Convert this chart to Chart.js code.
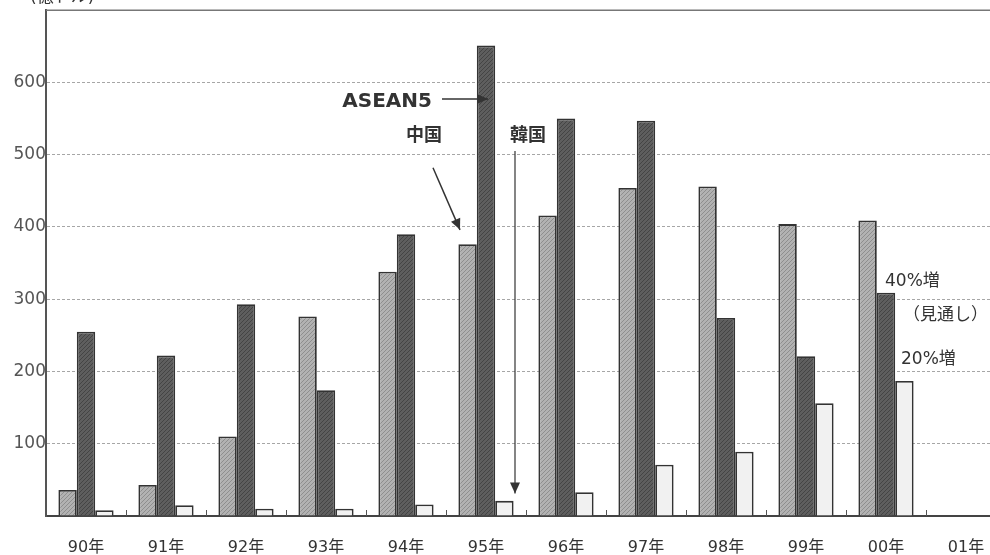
<!DOCTYPE html>
<html>
<head>
<meta charset="utf-8">
<script src="https://cdn.jsdelivr.net/npm/chart.js@4.4.1/dist/chart.umd.min.js"></script>
<style>
  html, body { margin: 0; padding: 0; background: #fff; overflow: hidden; }
  #wrap { width: 1010px; height: 555px; }
</style>
</head>
<body>
<div id="wrap"><canvas id="c" width="1010" height="555"></canvas></div>
<script>
// 投資額（億ドル）
const years = ['90年', '91年', '92年', '93年', '94年', '95年', '96年', '97年', '98年', '99年', '00年', '01年'];
const china = [36, 43, 110, 276, 338, 376, 416, 454, 456, 404, 409, null];
const asean5 = [255, 222, 293, 174, 390, 651, 550, 547, 274, 221, 309, null];
const korea = [8, 15, 10, 10, 16, 21, 33, 71, 89, 156, 187, null];
const yTicks = [100, 200, 300, 400, 500, 600];

const FONT = '"DejaVu Sans", "Noto Sans CJK JP", sans-serif';

// diagonal hatching fill for the bars
function hatch(base, line, step) {
  const p = document.createElement('canvas');
  p.width = step; p.height = step;
  const g = p.getContext('2d');
  g.fillStyle = base;
  g.fillRect(0, 0, step, step);
  g.strokeStyle = line;
  g.lineWidth = 1;
  g.beginPath();
  g.moveTo(0, step); g.lineTo(step, 0);
  g.moveTo(-1, 1); g.lineTo(1, -1);
  g.moveTo(step - 1, step + 1); g.lineTo(step + 1, step - 1);
  g.stroke();
  return g.createPattern(p, 'repeat');
}
const ctx0 = document.getElementById('c').getContext('2d');

function arrowHead(ctx, x1, y1, x2, y2, len, wid) {
  const a = Math.atan2(y2 - y1, x2 - x1);
  ctx.beginPath();
  ctx.moveTo(x2, y2);
  ctx.lineTo(x2 - len * Math.cos(a) + wid * Math.sin(a), y2 - len * Math.sin(a) - wid * Math.cos(a));
  ctx.lineTo(x2 - len * Math.cos(a) - wid * Math.sin(a), y2 - len * Math.sin(a) + wid * Math.cos(a));
  ctx.closePath();
  ctx.fill();
}
function arrow(ctx, x1, y1, x2, y2) {
  ctx.beginPath();
  ctx.moveTo(x1, y1);
  ctx.lineTo(x2, y2);
  ctx.stroke();
  arrowHead(ctx, x1, y1, x2, y2, 11, 5);
}

const decor = {
  id: 'decor',
  beforeDatasetsDraw(chart) {
    const { ctx, chartArea: a, scales } = chart;
    ctx.save();
    // top frame line
    ctx.strokeStyle = '#777';
    ctx.lineWidth = 1.5;
    ctx.beginPath();
    ctx.moveTo(a.left, scales.y.getPixelForValue(700));
    ctx.lineTo(a.right, scales.y.getPixelForValue(700));
    ctx.stroke();
    ctx.restore();
  },
  afterDatasetsDraw(chart) {
    const { ctx, chartArea: a, scales } = chart;
    const xs = scales.x, ys = scales.y;
    const cw = xs.getPixelForValue(1) - xs.getPixelForValue(0);
    ctx.save();
    // small category ticks on the base line
    ctx.strokeStyle = '#555';
    ctx.lineWidth = 1;
    for (let i = 1; i <= years.length; i++) {
      const x = Math.round(xs.getPixelForValue(i) - cw / 2) + 0.5;
      ctx.beginPath();
      ctx.moveTo(x, a.bottom);
      ctx.lineTo(x, a.bottom - 6);
      ctx.stroke();
    }
    // unit label
    ctx.fillStyle = '#333';
    ctx.font = '17px ' + FONT;
    ctx.textAlign = 'left';
    ctx.textBaseline = 'bottom';
    ctx.fillText('(億ドル)', 30, 6);

    const x95 = xs.getPixelForValue(5);
    const x00 = xs.getPixelForValue(10);
    ctx.fillStyle = '#333';
    ctx.strokeStyle = '#333';
    ctx.lineWidth = 1.5;

    // ASEAN5
    ctx.font = 'bold 20px ' + FONT;
    ctx.textAlign = 'right';
    ctx.textBaseline = 'middle';
    ctx.fillText('ASEAN5', x95 - 54, ys.getPixelForValue(573));
    arrow(ctx, x95 - 44, ys.getPixelForValue(577), x95 + 2, ys.getPixelForValue(577));

    // 中国
    ctx.font = 'bold 18px ' + FONT;
    ctx.textAlign = 'center';
    ctx.fillText('中国', x95 - 62, ys.getPixelForValue(526));
    arrow(ctx, x95 - 53, ys.getPixelForValue(482), x95 - 26, ys.getPixelForValue(396));

    // 韓国
    ctx.fillText('韓国', x95 + 42, ys.getPixelForValue(526));
    ctx.lineWidth = 1.2;
    arrow(ctx, x95 + 29, ys.getPixelForValue(505), x95 + 29, ys.getPixelForValue(31));

    // forecast notes
    ctx.font = '17px ' + FONT;
    ctx.textAlign = 'left';
    ctx.fillText('40%増', x00 - 1, ys.getPixelForValue(325));
    ctx.fillText('（見通し）', x00 + 17, ys.getPixelForValue(278));
    ctx.fillText('20%増', x00 + 15, ys.getPixelForValue(216));
    ctx.restore();
  }
};

new Chart(ctx0, {
  type: 'bar',
  data: {
    labels: years,
    datasets: [
      { label: '中国', data: china, backgroundColor: hatch('#b2b2b2', '#8e8e8e', 4) },
      { label: 'ASEAN5', data: asean5, backgroundColor: hatch('#5e5e5e', '#444444', 4) },
      { label: '韓国', data: korea, backgroundColor: '#f1f1f1' }
    ].map(d => Object.assign(d, {
      borderColor: '#333',
      borderWidth: 1.8,
      categoryPercentage: 0.69,
      barPercentage: 1.0
    }))
  },
  options: {
    responsive: false,
    animation: false,
    layout: { padding: { top: 8, right: 4, left: 0, bottom: 0 } },
    plugins: { legend: { display: false }, tooltip: { enabled: false } },
    scales: {
      x: {
        grid: { display: false, drawTicks: false },
        border: { color: '#444', width: 2 },
        ticks: { color: '#333', font: { family: FONT, size: 16 }, padding: 22 },
        afterFit(s) { s.height = 39; }
      },
      y: {
        min: 0, max: 700,
        afterBuildTicks(s) { s.ticks = [0].concat(yTicks).concat([700]).map(v => ({ value: v })); },
        ticks: {
          color: '#555',
          font: { family: FONT, size: 17 },
          padding: 0,
          callback: v => (yTicks.includes(v) ? String(v) : '')
        },
        grid: {
          color: ctx => (ctx.tick && (ctx.tick.value === 0 || ctx.tick.value === 700) ? 'rgba(0,0,0,0)' : '#a6a6a6'),
          lineWidth: 1,
          drawTicks: false
        },
        border: { color: '#555', width: 2, dash: [3, 2] },
        afterFit(s) { s.width = 46; }
      }
    }
  },
  plugins: [decor]
});
</script>
</body>
</html>
